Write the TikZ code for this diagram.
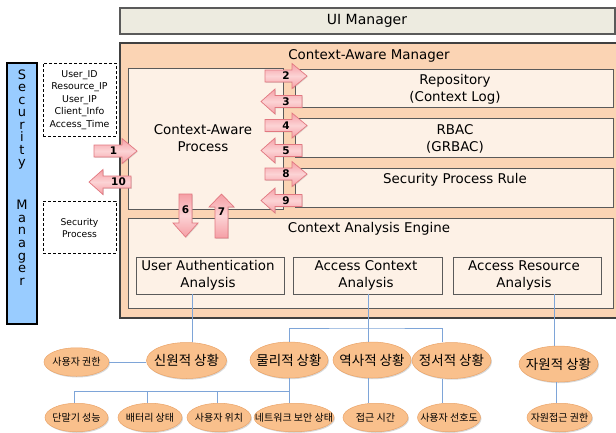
\documentclass[tikz,border=0pt]{standalone}
\usepackage{fontspec}
\setmainfont{DejaVu Sans}
\newfontfamily\kr{Noto Sans CJK KR}
\usetikzlibrary{shapes.geometric,shadows,calc}
\definecolor{uifill}{HTML}{EDEBE0}
\definecolor{peach}{HTML}{FBD4B4}
\definecolor{lightbox}{HTML}{FDF1E6}
\definecolor{smblue}{HTML}{99CCFF}
\definecolor{ellfill}{HTML}{F9C08C}
\definecolor{ellline}{HTML}{EBA468}
\definecolor{connc}{HTML}{7EA5D8}
\definecolor{arrline}{HTML}{E27880}
\definecolor{arrtop}{HTML}{F59FA5}
\definecolor{arrmid}{HTML}{FCD3D5}
\definecolor{boxline}{HTML}{5A5A5A}
\tikzset{
  inbox/.style={draw=boxline, line width=0.9pt, fill=lightbox, inner sep=0pt},
  lbl/.style={font=\fontsize{13.4}{17}\selectfont, align=center, inner sep=0pt},
  smallt/.style={font=\fontsize{9.4}{12.4}\selectfont, align=center, inner sep=0pt},
  dbox/.style={draw=black, densely dashed, line width=0.9pt, fill=white, inner sep=0pt},
  blk/.style={draw=arrline, line width=0.7pt, top color=arrtop, bottom color=arrtop, middle color=arrmid,
    drop shadow={opacity=0.25, shadow xshift=0.8pt, shadow yshift=-0.8pt}},
  alab/.style={font=\fontsize{10.5}{12}\selectfont\bfseries, inner sep=0pt},
  ellbig/.style={ellipse, draw=ellline, line width=0.5pt, fill=ellfill, inner sep=0pt, minimum height=36pt,
    font=\kr\fontsize{13.5}{16}\selectfont, drop shadow={opacity=0.3, shadow xshift=1pt, shadow yshift=-1.2pt}},
  ellsmall/.style={ellipse, draw=ellline, line width=0.5pt, fill=ellfill, inner sep=0pt, minimum height=28.5pt,
    font=\kr\fontsize{10}{12}\selectfont, drop shadow={opacity=0.3, shadow xshift=1pt, shadow yshift=-1.2pt}},
  connl/.style={draw=connc, line width=0.8pt},
  smlet/.style={font=\fontsize{13}{13}\selectfont, inner sep=0pt, anchor=base}
}
\newcommand{\zb}[1]{\makebox[0pt][c]{#1}}
% horizontal block arrow: name, tailx, tipx, y, signed head length, label x, text
\newcommand{\blkH}[7]{%
  \draw[blk] ({#2},{#4-6}) -- ({#3-(#5)},{#4-6}) -- ({#3-(#5)},{#4-12.5}) -- ({#3},{#4})
    -- ({#3-(#5)},{#4+12.5}) -- ({#3-(#5)},{#4+6}) -- ({#2},{#4+6}) -- cycle;
  \node[alab] (#1) at ({#6},{#4}) {#7};}
% vertical block arrow: name, x, taily, tipy, signed head length, label y, text
\newcommand{\blkV}[7]{%
  \draw[blk] ({#2-6.5},{#3}) -- ({#2-6.5},{#4-(#5)}) -- ({#2-12.5},{#4-(#5)}) -- ({#2},{#4})
    -- ({#2+12.5},{#4-(#5)}) -- ({#2+6.5},{#4-(#5)}) -- ({#2+6.5},{#3}) -- cycle;
  \node[alab] (#1) at ({#2},{#6}) {#7};}
\begin{document}
\begin{tikzpicture}[x=1pt,y=-1pt]
\useasboundingbox (0,0) rectangle (616,432);
\fill[white] (0,0) rectangle (616,432);
% UI manager
\node[draw=boxline, line width=1.2pt, fill=uifill, minimum width=495pt, minimum height=26pt, inner sep=0pt] (ui) at (367.5,21) {};
\node[lbl, font=\fontsize{14}{17}\selectfont] (uit) at (367,21) {UI Manager};
% Context-aware manager
\node[draw=black!75, line width=2pt, fill=peach, minimum width=502pt, minimum height=275pt, inner sep=0pt] (cam) at (371,180.5) {};
\node[lbl] (camt) at (369,56) {Context-Aware Manager};
\node[inbox, minimum width=155pt, minimum height=141pt] (cap) at (205.5,138.5) {};
\node[lbl] (capt) at (203,138.5) {Context-Aware\\Process};
\node[inbox, minimum width=318pt, minimum height=38pt] (repo) at (454,88) {};
\node[lbl] (repot) at (455,89.5) {Repository\\(Context Log)};
\node[inbox, minimum width=318pt, minimum height=39pt] (rbac) at (454,137.5) {};
\node[lbl] (rbact) at (455,138.5) {RBAC\\(GRBAC)};
\node[inbox, minimum width=318pt, minimum height=39pt] (spr) at (454,187.5) {};
\node[lbl] (sprt) at (455,180) {Security Process Rule};
\node[inbox, minimum width=485pt, minimum height=90pt] (cae) at (370.5,263) {};
\node[lbl] (caet) at (369,229) {Context Analysis Engine};
\node[inbox, minimum width=148pt, minimum height=37pt] (uaa) at (210,275.5) {};
\node[lbl, font=\fontsize{13.4}{16.5}\selectfont] (uaat) at (208,275.5) {User Authentication\\Analysis};
\node[inbox, minimum width=149pt, minimum height=37pt] (aca) at (367.5,275.5) {};
\node[lbl, font=\fontsize{13.4}{16.5}\selectfont] (acat) at (366,275.5) {Access Context\\Analysis};
\node[inbox, minimum width=148pt, minimum height=37pt] (ara) at (527,275.5) {};
\node[lbl, font=\fontsize{13.4}{16.5}\selectfont] (arat) at (524,275.5) {Access Resource\\Analysis};
% arrows
\blkH{a2}{265}{307}{76}{15}{286}{2}
\blkH{a3}{302}{261}{101.5}{-14}{286}{3}
\blkH{a4}{265}{307}{125.5}{15}{286}{4}
\blkH{a5}{302}{261}{150.5}{-14}{286}{5}
\blkH{a8}{265}{307}{174}{15}{286}{8}
\blkH{a9}{302}{261}{200.5}{-14}{286}{9}
\blkH{a1}{94}{137}{151}{15}{113.5}{1}
\blkH{a10}{131}{89}{182}{-14}{118.5}{10}
\blkV{a6}{185.5}{194}{237}{14}{209.5}{6}
\blkV{a7}{221.5}{238}{194}{-13}{211.5}{7}
% security manager
\node[draw=black, line width=1.3pt, fill=smblue, minimum width=30pt, minimum height=261pt, inner sep=0pt] (sm) at (22,193.5) {};
\foreach \c [count=\i] in {S,e,c,u,r,i,t,y}
  \node[smlet] (sms\i) at (22,{79.5+12.45*(\i-1)}) {\c};
\foreach \c [count=\i] in {M,a,n,a,g,e,r}
  \node[smlet] (smm\i) at (22,{209.5+12.65*(\i-1)}) {\c};
% dashed boxes
\node[dbox, minimum width=73pt, minimum height=73pt] (info) at (79.5,99.5) {};
\node[smallt] (infot) at (79.5,100) {User\_ID\\Resource\_IP\\User\_IP\\Client\_Info\\Access\_Time};
\node[dbox, minimum width=73pt, minimum height=52pt] (secp) at (79.5,227) {};
\node[smallt, font=\fontsize{9.2}{12}\selectfont] (secpt) at (79.5,228) {Security\\Process};
% ellipses
\node[ellbig, minimum width=80pt] (sinwon) at (186.5,360.5) {\zb{신원적 상황}};
\node[ellbig, minimum width=78pt] (mul) at (289,360) {\zb{물리적 상황}};
\node[ellbig, minimum width=78pt] (yeoksa) at (372,360) {\zb{역사적 상황}};
\node[ellbig, minimum width=79pt] (jeongseo) at (451.5,360.5) {\zb{정서적 상황}};
\node[ellbig, minimum width=79pt] (jawon) at (558.5,364) {\zb{자원적 상황}};
\node[ellsmall, minimum width=65pt] (gwonhan) at (76.5,362) {\zb{사용자 권한}};
\node[ellsmall, minimum width=63pt] (danmal) at (76.5,417.5) {\zb{단말기 성능}};
\node[ellsmall, minimum width=64pt] (battery) at (150,417.5) {\zb{배터리 상태}};
\node[ellsmall, minimum width=64pt] (location) at (219,417.5) {\zb{사용자 위치}};
\node[ellsmall, minimum width=80pt] (network) at (294,417.5) {\zb{네트워크 보안 상태}};
\node[ellsmall, minimum width=65pt] (atime) at (375.5,417.5) {\zb{접근 시간}};
\node[ellsmall, minimum width=63pt] (pref) at (449,417.5) {\zb{사용자 선호도}};
\node[ellsmall, minimum width=65pt] (jaccess) at (559.5,417.5) {\zb{자원접근 권한}};
% connectors
\coordinate (busA) at (368,328);
\coordinate (busB) at (290,391);
\draw[connl] ([xshift=5.5pt]sinwon.north) -- ([xshift=5.5pt]sinwon.north |- uaa.south);
\draw[connl] ([xshift=-4pt]yeoksa.north) -- ([xshift=-4pt]yeoksa.north |- aca.south);
\draw[connl] (mul.north) |- (busA) -| ([xshift=-9pt]jeongseo.north);
\draw[connl] ([xshift=-4.5pt]jawon.north) -- ([xshift=-4.5pt]jawon.north |- ara.south);
\draw[connl] (gwonhan.east) -- (gwonhan.east -| sinwon.west);
\draw[connl] (mul.south) -- ([xshift=-5pt]network.north);
\draw[connl] ([xshift=-2.5pt]danmal.north) |- (busB);
\draw[connl] ([xshift=-3pt]battery.north) -- ([xshift=-3pt]battery.north |- busB);
\draw[connl] ([xshift=-2pt]location.north) -- ([xshift=-2pt]location.north |- busB);
\draw[connl] ([xshift=-4pt]yeoksa.south) -- ([xshift=-4pt]yeoksa.south |- atime.north);
\draw[connl] ([xshift=-9pt]jeongseo.south) -- ([xshift=-9pt]jeongseo.south |- pref.north);
\draw[connl] ([xshift=-2.5pt]jawon.south) -- ([xshift=-2.5pt]jawon.south |- jaccess.north);
\end{tikzpicture}
\end{document}
